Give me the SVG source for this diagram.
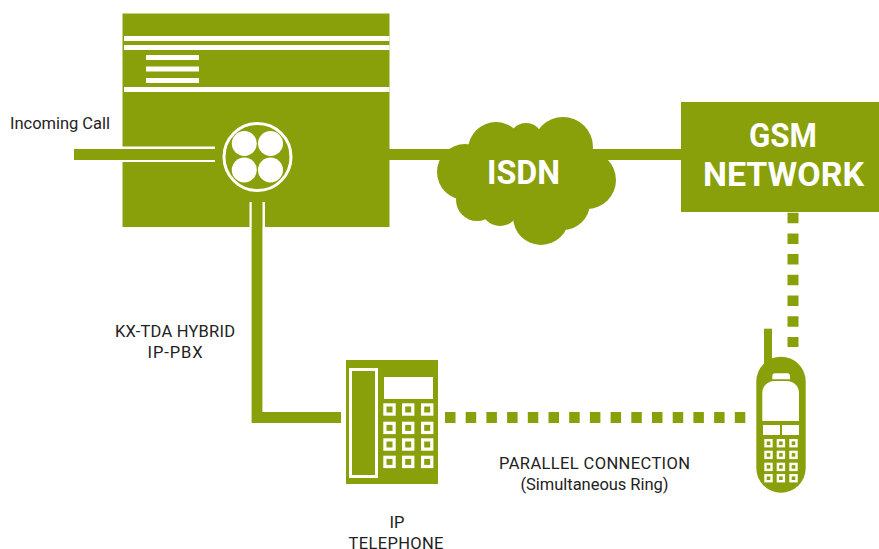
<svg xmlns="http://www.w3.org/2000/svg" width="879" height="549" viewBox="0 0 879 549">
<style>
.g{fill:#8aa00a}
.w{fill:#fff}
.t{font-family:Roboto,"Liberation Sans",sans-serif;font-size:16.5px;fill:#222;text-anchor:middle}
.b{font-family:Roboto,"Liberation Sans",sans-serif;font-weight:700;font-size:34px;fill:#fff;text-anchor:middle}
.d{fill:none;stroke:#8aa00a;stroke-width:11;stroke-dasharray:10.5 10.2}
</style>
<defs>
<g id="k"><rect class="w" width="12.4" height="12.4"/><rect class="g" x="3.2" y="3.2" width="6" height="6"/></g>
<g id="m"><rect class="w" width="8.4" height="8.4"/><rect class="g" x="2.4" y="2.4" width="3.6" height="3.6"/></g>
</defs>
<rect width="879" height="549" fill="#fff"/>
<g id="connectors">
<rect class="g" x="389" y="149" width="60" height="11"/>
<rect class="g" x="590" y="149" width="95" height="11"/>
<path class="d" d="M445 417.5H746"/>
<path class="d" d="M793 212.7V347"/>
</g>
<g id="pbx">
<rect class="g" x="122.500" y="13.500" width="267" height="213.500"/>
<rect class="w" x="124" y="36" width="265.500" height="5"/>
<rect class="w" x="124" y="45" width="265.500" height="5"/>
<rect class="w" x="124" y="87" width="265.500" height="5"/>
<rect class="w" x="146" y="55" width="53" height="5"/>
<rect class="w" x="146" y="66.500" width="53" height="5"/>
<rect class="w" x="146" y="78" width="53" height="5"/>
<rect class="w" x="122" y="146.500" width="93" height="15.500"/>
<rect class="g" x="74" y="149" width="141" height="11"/>
<circle cx="257.500" cy="157" r="33.500" fill="none" stroke="#fff" stroke-width="3"/>
<circle class="w" cx="244.300" cy="143.500" r="12.500"/>
<circle class="w" cx="270.500" cy="143.500" r="12.500"/>
<circle class="w" cx="244.300" cy="170" r="12.500"/>
<circle class="w" cx="270.500" cy="170" r="12.500"/>
<rect class="w" x="249.500" y="202" width="15.500" height="25"/>
<rect class="g" x="251.700" y="202" width="10.800" height="25"/>
<path d="M257 227V417.500H341" fill="none" stroke="#8aa00a" stroke-width="10.800"/>
</g>
<g id="cloud">
<circle class="g" cx="563" cy="147" r="30"/>
<circle class="g" cx="496" cy="150" r="28"/>
<circle class="g" cx="526" cy="140" r="17"/>
<circle class="g" cx="465" cy="172" r="28"/>
<circle class="g" cx="477" cy="200" r="21"/>
<circle class="g" cx="500" cy="207" r="19"/>
<circle class="g" cx="541" cy="217" r="28"/>
<circle class="g" cx="563" cy="203" r="27"/>
<circle class="g" cx="587" cy="180" r="29"/>
<rect class="g" x="480" y="140" width="100" height="70"/>
<text class="b" x="523.500" y="184.300" textLength="73" lengthAdjust="spacingAndGlyphs">ISDN</text>
</g>
<g id="gsm">
<rect class="g" x="681" y="102" width="198" height="110"/>
<text class="b" x="783" y="147" textLength="68" lengthAdjust="spacingAndGlyphs">GSM</text>
<text class="b" x="783.500" y="186" textLength="161" lengthAdjust="spacingAndGlyphs">NETWORK</text>
</g>
<g id="ip-phone">
<rect class="g" x="346" y="360" width="92" height="124"/>
<rect x="350.500" y="369.500" width="26" height="107" fill="none" stroke="#fff" stroke-width="3"/>
<rect class="w" x="384" y="377" width="49" height="22"/>
<use href="#k" x="383.300" y="403.300"/><use href="#k" x="402" y="403.300"/><use href="#k" x="421" y="403.300"/>
<use href="#k" x="383.300" y="421.700"/><use href="#k" x="402" y="421.700"/><use href="#k" x="421" y="421.700"/>
<use href="#k" x="383.300" y="438.300"/><use href="#k" x="402" y="438.300"/><use href="#k" x="421" y="438.300"/>
<use href="#k" x="383.300" y="455.700"/><use href="#k" x="402" y="455.700"/><use href="#k" x="421" y="455.700"/>
</g>
<g id="mobile">
<rect class="g" x="764" y="328.700" width="8" height="40"/>
<rect class="g" x="756.300" y="356.700" width="49.400" height="136" rx="24.700"/>
<path class="w" d="M772.300 379.300V376a2.700 2.700 0 0 1 2.700-2.700h12.300a2.700 2.700 0 0 1 2.700 2.700v3.300z"/>
<path class="w" d="M762.300 421V393a12 12 0 0 1 12-12h12.700a12 12 0 0 1 12 12v28z"/>
<rect class="w" x="763" y="425" width="17" height="10"/>
<rect class="w" x="782" y="425" width="17" height="10"/>
<use href="#m" x="764.300" y="439"/><use href="#m" x="776.700" y="439"/><use href="#m" x="789.300" y="439"/>
<use href="#m" x="764.300" y="450.700"/><use href="#m" x="776.700" y="450.700"/><use href="#m" x="789.300" y="450.700"/>
<use href="#m" x="764.300" y="462.700"/><use href="#m" x="776.700" y="462.700"/><use href="#m" x="789.300" y="462.700"/>
<use href="#m" x="764.300" y="474"/><use href="#m" x="776.700" y="474"/><use href="#m" x="789.300" y="474"/>
</g>
<g id="labels">
<text class="t" x="60" y="129" textLength="100">Incoming Call</text>
<text class="t" x="175" y="336.500" textLength="120">KX-TDA HYBRID</text>
<text class="t" x="175" y="357.500" textLength="55">IP-PBX</text>
<text class="t" x="594.500" y="469" textLength="191">PARALLEL CONNECTION</text>
<text class="t" x="594.500" y="490" textLength="148">(Simultaneous Ring)</text>
<text class="t" x="397" y="528">IP</text>
<text class="t" x="396" y="548.500" textLength="95">TELEPHONE</text>
</g>
</svg>
